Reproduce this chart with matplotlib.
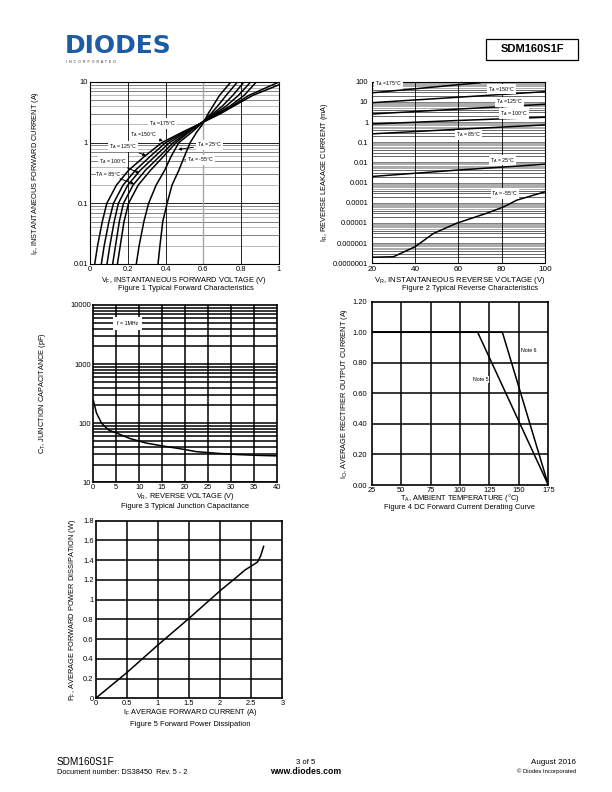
import matplotlib
matplotlib.use("Agg")
import matplotlib.pyplot as plt
from matplotlib.ticker import FixedLocator, NullLocator

plt.rcParams['font.family'] = ['Liberation Sans', 'DejaVu Sans']
plt.rcParams['mathtext.default'] = 'regular'

W, H = 612, 792

# Figure 1 - forward characteristics (V, A)
if_175 = [0.01, 0.02, 0.05, 0.1, 0.2, 0.35, 0.6, 1, 1.5, 2, 3, 4, 6, 9]
vf_175 = [0.025, 0.04, 0.065, 0.089, 0.14, 0.204, 0.29, 0.38, 0.49, 0.575, 0.69, 0.76, 0.86, 1.0]
if_150 = [0.01, 0.02, 0.05, 0.1, 0.2, 0.35, 0.6, 1, 1.5, 2, 3, 4, 6, 10]
vf_150 = [0.06, 0.075, 0.10, 0.124, 0.175, 0.24, 0.32, 0.40, 0.50, 0.575, 0.68, 0.75, 0.84, 1.0]
if_std = [0.01, 0.02, 0.05, 0.1, 0.2, 0.35, 0.6, 1, 1.5, 2, 3, 4, 6, 10]
vf_125 = [0.09, 0.105, 0.128, 0.15, 0.20, 0.266, 0.345, 0.42, 0.51, 0.575, 0.67, 0.74, 0.815, 0.88]
vf_100 = [0.12, 0.135, 0.155, 0.177, 0.228, 0.293, 0.37, 0.44, 0.52, 0.578, 0.66, 0.72, 0.785, 0.85]
vf_85 = [0.145, 0.16, 0.18, 0.204, 0.255, 0.32, 0.39, 0.455, 0.525, 0.58, 0.65, 0.70, 0.755, 0.815]
vf_25 = [0.245, 0.26, 0.285, 0.31, 0.35, 0.395, 0.43, 0.47, 0.54, 0.585, 0.64, 0.675, 0.72, 0.78]
vf_m55 = [0.36, 0.37, 0.385, 0.408, 0.434, 0.47, 0.50, 0.53, 0.565, 0.595, 0.625, 0.65, 0.685, 0.745]

# Figure 2 - reverse leakage (V, mA)
vr_175 = [20, 45, 70]
ir_175 = [28, 50, 89]
vr_std = [20, 60, 100]
ir_150 = [9.1, 17, 32]
ir_125 = [2.5, 4.4, 7.6]
ir_100 = [0.8, 1.2, 1.73]
ir_85 = [0.26, 0.44, 0.72]
ir_25 = [0.002, 0.0042, 0.0081]
vr_m55 = [20, 30, 40, 48.5, 59, 73, 81, 87, 100]
ir_m55 = [2e-7, 2.1e-7, 6.6e-7, 3e-6, 9.5e-6, 3e-5, 6.3e-5, 1.35e-4, 3.5e-4]

# Figure 3 - junction capacitance
vr_cap = [0, 0.7, 1.8, 3.3, 5.1, 8, 11.6, 15.3, 18.9, 22.5, 26.9, 31.3, 35.6, 40]
ct_cap = [245, 148, 100, 77, 68, 55, 46, 41, 37, 33, 31, 29.5, 28.6, 28]

# Figure 4 - derating
ta_note5 = [25, 115, 175]
io_note5 = [1.0, 1.0, 0.0]
ta_note6 = [25, 136, 175]
io_note6 = [1.0, 1.0, 0.0]

# Figure 5 - power dissipation
if_avg = [0, 0.5, 1.0, 1.5, 2.0, 2.25, 2.4, 2.5, 2.6, 2.65, 2.7]
pf_avg = [0, 0.26, 0.54, 0.81, 1.09, 1.22, 1.30, 1.34, 1.38, 1.44, 1.54]


def box(l, t, r, b):
    return [l / W, 1 - b / H, (r - l) / W, (b - t) / H]


def ftext(x, y, s, **kw):
    fig.text(x / W, 1 - y / H, s, **kw)


fig = plt.figure(figsize=(6.12, 7.92), dpi=100)
lab_fs = 5.3
cap_fs = 5.4
tick_fs = 5.4
note_bbox = dict(facecolor='white', edgecolor='none', pad=0.6)

# ---------------- Figure 1
ax1 = fig.add_axes(box(90, 82, 279, 264))
ax1.set_yscale('log')
ax1.set_xlim(0, 1)
ax1.set_ylim(0.01, 10)
for y in [0.01, 0.1, 1]:
    for k in range(2, 10):
        ax1.axhline(y * k, color='0.3' if k % 2 else '0.62', lw=0.5, zorder=1)
    ax1.axhline(y, color='black', lw=0.6, zorder=1)
for x in [0.2, 0.4, 0.8]:
    ax1.axvline(x, color='black', lw=0.6, zorder=1)
ax1.axvline(0.6, color='0.65', lw=1.0, zorder=1)
for v, i in [(vf_175, if_175), (vf_150, if_150), (vf_125, if_std), (vf_100, if_std),
             (vf_85, if_std), (vf_25, if_std), (vf_m55, if_std)]:
    ax1.plot(v, i, color='black', lw=1.1, zorder=3)
ax1.set_xticks([0, 0.2, 0.4, 0.6, 0.8, 1])
ax1.set_xticklabels(['0', '0.2', '0.4', '0.6', '0.8', '1'])
ax1.yaxis.set_major_locator(FixedLocator([0.01, 0.1, 1, 10]))
ax1.set_yticklabels(['0.01', '0.1', '1', '10'])
ax1.yaxis.set_minor_locator(NullLocator())
ann = dict(fontsize=3.8, bbox=note_bbox, zorder=5, ha='center', va='center')
arr = dict(arrowstyle='-|>', color='black', lw=0.7, mutation_scale=4)
ax1.text(0.383, 2.09, 'T$_A$ =175°C', **ann)
ax1.annotate('T$_A$ =150°C', xy=(0.40, 1.04), xytext=(0.28, 1.34), arrowprops=arr, **ann)
ax1.annotate('T$_A$ = 125°C', xy=(0.31, 0.59), xytext=(0.173, 0.86), arrowprops=arr, **ann)
ax1.annotate('T$_A$ = 100°C', xy=(0.275, 0.30), xytext=(0.122, 0.49), arrowprops=arr, **ann)
ax1.annotate('TA = 85°C', xy=(0.248, 0.2), xytext=(0.098, 0.30), arrowprops=arr, **ann)
ax1.annotate('T$_A$ = 25°C', xy=(0.452, 0.76), xytext=(0.633, 0.92), arrowprops=arr, **ann)
ax1.annotate('T$_A$ = -55°C', xy=(0.50, 0.52), xytext=(0.585, 0.52),
             arrowprops=dict(arrowstyle='-', color='black', lw=0.6), **ann)

# ---------------- Figure 2
ax2 = fig.add_axes(box(371.7, 81.7, 545, 263.3))
ax2.set_yscale('log')
ax2.set_xlim(20, 100)
ax2.set_ylim(1e-7, 100)
for e in range(-7, 2):
    for k in range(2, 10):
        ax2.axhline(10.0 ** e * k, color='0.3' if k < 5 else '0.62', lw=0.6, zorder=1)
for e in range(-6, 2):
    ax2.axhline(10.0 ** e, color='0.4', lw=0.6, zorder=1)
for x in [40, 60, 80]:
    ax2.axvline(x, color='black', lw=0.6, zorder=1)
ax2.plot(vr_175, ir_175, color='black', lw=1.1, zorder=3)
for ir in [ir_150, ir_125, ir_100, ir_85, ir_25]:
    ax2.plot(vr_std, ir, color='black', lw=1.1, zorder=3)
ax2.plot(vr_m55, ir_m55, color='black', lw=1.1, zorder=3)
ax2.set_xticks([20, 40, 60, 80, 100])
ax2.yaxis.set_major_locator(FixedLocator([10.0 ** e for e in range(-7, 3)]))
ax2.set_yticklabels(['0.0000001', '0.000001', '0.00001', '0.0001', '0.001',
                     '0.01', '0.1', '1', '10', '100'])
ax2.yaxis.set_minor_locator(NullLocator())
ann2 = dict(fontsize=3.8, bbox=note_bbox, zorder=5, ha='center', va='center')
ax2.text(27.7, 83, 'T$_A$ =175°C', **ann2)
ax2.text(80, 43, 'T$_A$ =150°C', **ann2)
ax2.text(83.5, 10, 'T$_A$ =125°C', **ann2)
ax2.text(85.7, 2.7, 'T$_A$ = 100°C', **ann2)
ax2.text(64.6, 0.23, 'T$_A$ = 85°C', **ann2)
ax2.text(80.5, 0.013, 'T$_A$ = 25°C', **ann2)
ax2.text(81.5, 2.9e-4, 'T$_A$ = -55°C', **ann2)

# ---------------- Figure 3
ax3 = fig.add_axes(box(93.3, 305, 276.7, 482.3))
ax3.set_yscale('log')
ax3.set_xlim(0, 40)
ax3.set_ylim(10, 10000)
for y in [10, 100, 1000]:
    for k in range(1, 10):
        ax3.axhline(y * k, color='black', lw=1.1, zorder=1)
for x in range(5, 40, 5):
    ax3.axvline(x, color='black', lw=1.1, zorder=1)
ax3.plot(vr_cap, ct_cap, color='black', lw=1.1, zorder=3)
ax3.set_xticks(range(0, 41, 5))
ax3.yaxis.set_major_locator(FixedLocator([10, 100, 1000, 10000]))
ax3.set_yticklabels(['10', '100', '1000', '10000'])
ax3.yaxis.set_minor_locator(NullLocator())
ax3.text(7.5, 4900, 'f = 1MHz', fontsize=3.8, ha='center', va='center', zorder=5,
         bbox=dict(facecolor='white', edgecolor='none', pad=3))

# ---------------- Figure 4
ax4 = fig.add_axes(box(371.7, 301.7, 548.3, 485))
ax4.set_xlim(25, 175)
ax4.set_ylim(0, 1.2)
for x in range(50, 175, 25):
    ax4.axvline(x, color='black', lw=1.1, zorder=1)
for y in [0.2, 0.4, 0.6, 0.8, 1.0]:
    ax4.axhline(y, color='black', lw=1.1, zorder=1)
ax4.plot(ta_note5, io_note5, color='black', lw=1.1, zorder=3)
ax4.plot(ta_note6, io_note6, color='black', lw=1.1, zorder=3)
ax4.set_xticks(range(25, 176, 25))
ax4.set_yticks([0, 0.2, 0.4, 0.6, 0.8, 1.0, 1.2])
ax4.set_yticklabels(['0.00', '0.20', '0.40', '0.60', '0.80', '1.00', '1.20'])
ax4.text(117.5, 0.69, 'Note 5', fontsize=3.8, ha='center', va='center', bbox=note_bbox, zorder=5)
ax4.text(158, 0.88, 'Note 6', fontsize=3.8, ha='center', va='center', bbox=note_bbox, zorder=5)

# ---------------- Figure 5
ax5 = fig.add_axes(box(95.7, 520.7, 282.3, 698.3))
ax5.set_xlim(0, 3)
ax5.set_ylim(0, 1.8)
for x in [0.5, 1, 1.5, 2, 2.5]:
    ax5.axvline(x, color='black', lw=1.1, zorder=1)
for y in [0.2, 0.4, 0.6, 0.8, 1.0, 1.2, 1.4, 1.6]:
    ax5.axhline(y, color='black', lw=1.1, zorder=1)
ax5.plot(if_avg, pf_avg, color='black', lw=1.1, zorder=3)
ax5.set_xticks([0, 0.5, 1, 1.5, 2, 2.5, 3])
ax5.set_xticklabels(['0', '0.5', '1', '1.5', '2', '2.5', '3'])
ax5.set_yticks([0, 0.2, 0.4, 0.6, 0.8, 1.0, 1.2, 1.4, 1.6, 1.8])
ax5.set_yticklabels(['0', '0.2', '0.4', '0.6', '0.8', '1', '1.2', '1.4', '1.6', '1.8'])

for ax, lw in [(ax1, 0.8), (ax2, 0.8), (ax3, 1.2), (ax4, 1.2), (ax5, 1.2)]:
    for s in ax.spines.values():
        s.set_linewidth(lw)
    ax.tick_params(length=0, pad=1.5, labelsize=tick_fs)
ax2.tick_params(axis='x', labelsize=5.9, pad=2.2)
ax2.tick_params(axis='y', pad=2.5)
ax4.tick_params(axis='x', pad=1.2)
ax4.tick_params(axis='y', pad=3)

# axis labels and captions
ftext(184, 280, 'V$_F$, INSTANTANEOUS FORWARD VOLTAGE (V)', fontsize=lab_fs, ha='center', va='center')
ftext(186, 289, 'Figure 1 Typical Forward Characteristics', fontsize=cap_fs, ha='center', va='center')
ftext(36, 173, 'I$_F$, INSTANTANEOUS FORWARD CURRENT (A)', fontsize=lab_fs, ha='center', va='center', rotation=90)

ftext(460, 280.5, 'V$_R$, INSTANTANEOUS REVERSE VOLTAGE (V)', fontsize=5.6, ha='center', va='center')
ftext(470, 288.5, 'Figure 2 Typical Reverse Characteristics', fontsize=cap_fs, ha='center', va='center')
ftext(325, 172, 'I$_R$, REVERSE LEAKAGE CURRENT (mA)', fontsize=lab_fs, ha='center', va='center', rotation=90)

ftext(185, 497, 'V$_R$, REVERSE VOLTAGE (V)', fontsize=lab_fs, ha='center', va='center')
ftext(185, 507, 'Figure 3 Typical Junction Capacitance', fontsize=cap_fs, ha='center', va='center')
ftext(43, 393, 'C$_T$, JUNCTION CAPACITANCE (pF)', fontsize=lab_fs, ha='center', va='center', rotation=90)

ftext(460, 498.5, 'T$_A$, AMBIENT TEMPERATURE (°C)', fontsize=lab_fs, ha='center', va='center')
ftext(460, 507.5, 'Figure 4 DC Forward Current Derating Curve', fontsize=cap_fs, ha='center', va='center')
ftext(345, 393, 'I$_O$, AVERAGE RECTIFIER OUTPUT CURRENT (A)', fontsize=lab_fs, ha='center', va='center', rotation=90)

ftext(190, 713, 'I$_F$ AVERAGE FORWARD CURRENT (A)', fontsize=lab_fs, ha='center', va='center')
ftext(190, 724, 'Figure 5 Forward Power Dissipation', fontsize=cap_fs, ha='center', va='center')
ftext(73, 610, 'P$_F$, AVERAGE FORWARD POWER DISSIPATION (W)', fontsize=lab_fs, ha='center', va='center', rotation=90)

# header
ftext(65, 46, 'DIODES', fontsize=18, fontweight='heavy', color='#1d5ba6',
      ha='left', va='center', family=['DejaVu Sans'])
ftext(66, 62, 'I  N  C  O  R  P  O  R  A  T  E  D', fontsize=2.6, color='#333333',
      ha='left', va='center')
fig.patches.append(plt.Rectangle((486 / W, 1 - 60 / H), 92 / W, 21 / H, transform=fig.transFigure,
                                 fill=False, edgecolor='black', lw=0.9))
ftext(532, 49.5, 'SDM160S1F', fontsize=8, fontweight='bold', ha='center', va='center')

# footer
ftext(57, 762, 'SDM160S1F', fontsize=7.2, ha='left', va='center')
ftext(57, 772, 'Document number: DS38450  Rev. 5 - 2', fontsize=5.3, ha='left', va='center')
ftext(306, 762, '3 of 5', fontsize=5.6, ha='center', va='center')
ftext(306, 772, 'www.diodes.com', fontsize=6.2, fontweight='bold', ha='center', va='center')
ftext(576, 762, 'August 2016', fontsize=5.8, ha='right', va='center')
ftext(576, 771, '© Diodes Incorporated', fontsize=4.2, ha='right', va='center')

fig.savefig('out.png', dpi=100)
